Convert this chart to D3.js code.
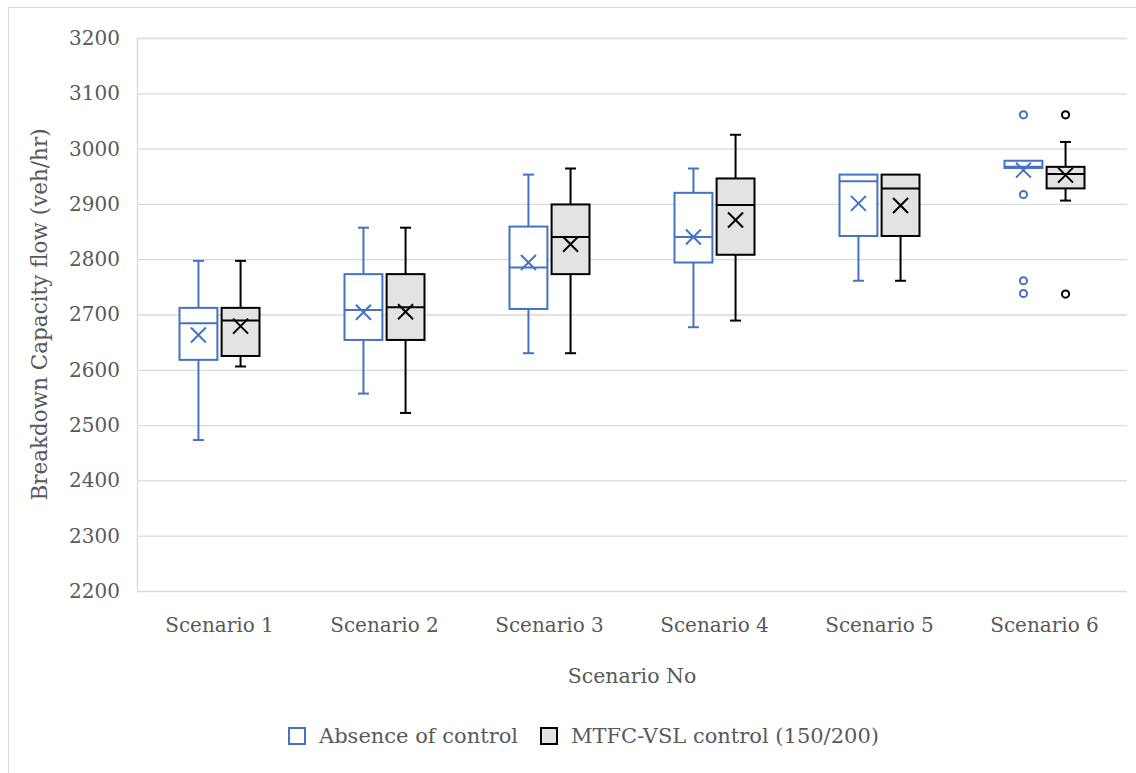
<html>
<head>
<script src="https://d3js.org/d3.v7.min.js"></script>
<style>
  body { margin: 0; background: #fff; }
  text { font-family: "DejaVu Serif", serif; fill: #595959; }
</style>
</head>
<body>
<script>
// categories and series
var scenarios = ["Scenario 1", "Scenario 2", "Scenario 3", "Scenario 4", "Scenario 5", "Scenario 6"];
var seriesNames = ["Absence of control", "MTFC-VSL control (150/200)"];
var yTicks = [2200, 2300, 2400, 2500, 2600, 2700, 2800, 2900, 3000, 3100, 3200];

// Absence of control
var noneLow    = [2473, 2557, 2630, 2677, 2761, 2965];
var noneQ1     = [2618, 2654, 2710, 2794, 2842, 2965];
var noneMedian = [2684, 2708, 2785, 2840, 2941, 2967];
var noneQ3     = [2712, 2773, 2859, 2920, 2953, 2978];
var noneHigh   = [2797, 2857, 2953, 2964, 2953, 2978];
var noneMean   = [2663, 2704, 2794, 2840, 2901, 2961];
var noneOut    = [[], [], [], [], [], [3061, 2917, 2761, 2738]];

// MTFC-VSL control
var vslLow    = [2606, 2522, 2630, 2689, 2761, 2906];
var vslQ1     = [2625, 2654, 2773, 2808, 2842, 2928];
var vslMedian = [2689, 2713, 2840, 2898, 2928, 2954];
var vslQ3     = [2712, 2773, 2899, 2946, 2953, 2967];
var vslHigh   = [2797, 2857, 2964, 3025, 2953, 3012];
var vslMean   = [2679, 2705, 2827, 2871, 2897, 2952];
var vslOut    = [[], [], [], [], [], [3061, 2737]];

var colors = ["#4472C4", "#000000"];
var fills = ["#ffffff", "#e3e3e3"];

var width = 1136, height = 773;
var margin = {top: 38, right: 9, bottom: 182, left: 137};

var svg = d3.select("body").append("svg")
    .attr("width", width)
    .attr("height", height);

// outer frame
svg.append("path")
    .attr("d", "M8.5," + (height + 5) + "V7.5H" + (width + 5))
    .attr("fill", "none")
    .attr("stroke", "#d9d9d9");

var x = d3.scaleBand()
    .domain(scenarios)
    .range([margin.left, width - margin.right]);

var x1 = d3.scaleBand()
    .domain(seriesNames)
    .range([-40, 40])
    .paddingInner(0.1);

var y = d3.scaleLinear()
    .domain([2200, 3200])
    .range([height - margin.bottom, margin.top]);

// gridlines + y labels
var yAxis = svg.append("g")
    .attr("transform", "translate(" + margin.left + ",0)")
    .call(d3.axisLeft(y).tickValues(yTicks).tickFormat(d3.format("d"))
        .tickSize(-(width - margin.left - margin.right)).tickPadding(17))
    .call(g => g.select(".domain").remove());
yAxis.selectAll(".tick line").attr("stroke", "#d9d9d9").attr("stroke-width", 1.3);
yAxis.selectAll(".tick text").attr("font-size", 20).attr("fill", "#595959");

// left axis line
svg.append("line")
    .attr("x1", margin.left + 0.5).attr("x2", margin.left + 0.5)
    .attr("y1", y(3200)).attr("y2", y(2200))
    .attr("stroke", "#d9d9d9").attr("stroke-width", 1.3);

// x labels
var xAxis = svg.append("g")
    .attr("transform", "translate(0," + y(2200) + ")")
    .call(d3.axisBottom(x).tickSize(0).tickPadding(27))
    .call(g => g.select(".domain").remove());
xAxis.selectAll(".tick text").attr("font-size", 20).attr("fill", "#595959");

svg.append("text")
    .attr("x", (margin.left + width - margin.right) / 2)
    .attr("y", 683)
    .attr("text-anchor", "middle")
    .attr("font-size", 20.5)
    .text("Scenario No");

svg.append("text")
    .attr("transform", "translate(47," + ((y(3200) + y(2200)) / 2) + ") rotate(-90)")
    .attr("text-anchor", "middle")
    .attr("font-size", 21.5)
    .text("Breakdown Capacity flow (veh/hr)");

var series = [
    {name: seriesNames[0], low: noneLow, q1: noneQ1, median: noneMedian, q3: noneQ3, high: noneHigh, mean: noneMean, out: noneOut},
    {name: seriesNames[1], low: vslLow, q1: vslQ1, median: vslMedian, q3: vslQ3, high: vslHigh, mean: vslMean, out: vslOut}
];

var bw = x1.bandwidth();
var cap = 5.5;
var xs = 7.5;

series.forEach(function(s, si) {
    var col = colors[si];
    var g = svg.append("g");
    scenarios.forEach(function(sc, i) {
        var cx = x(sc) + x.bandwidth() / 2 + x1(s.name) + bw / 2;
        var left = cx - bw / 2;
        // whiskers
        if (s.high[i] > s.q3[i]) {
            g.append("line").attr("x1", cx).attr("x2", cx).attr("y1", y(s.high[i])).attr("y2", y(s.q3[i]))
                .attr("stroke", col).attr("stroke-width", 2);
            g.append("line").attr("x1", cx - cap).attr("x2", cx + cap).attr("y1", y(s.high[i])).attr("y2", y(s.high[i]))
                .attr("stroke", col).attr("stroke-width", 2);
        }
        if (s.low[i] < s.q1[i]) {
            g.append("line").attr("x1", cx).attr("x2", cx).attr("y1", y(s.q1[i])).attr("y2", y(s.low[i]))
                .attr("stroke", col).attr("stroke-width", 2);
            g.append("line").attr("x1", cx - cap).attr("x2", cx + cap).attr("y1", y(s.low[i])).attr("y2", y(s.low[i]))
                .attr("stroke", col).attr("stroke-width", 2);
        }
        // box
        g.append("rect")
            .attr("x", left).attr("width", bw)
            .attr("y", y(s.q3[i])).attr("height", y(s.q1[i]) - y(s.q3[i]))
            .attr("fill", fills[si]).attr("stroke", col).attr("stroke-width", 2);
        g.append("line").attr("x1", left).attr("x2", left + bw).attr("y1", y(s.median[i])).attr("y2", y(s.median[i]))
            .attr("stroke", col).attr("stroke-width", 2);
        // mean marker
        var my = y(s.mean[i]);
        g.append("path")
            .attr("d", "M" + (cx - xs) + "," + (my - xs) + "L" + (cx + xs) + "," + (my + xs) +
                       "M" + (cx - xs) + "," + (my + xs) + "L" + (cx + xs) + "," + (my - xs))
            .attr("stroke", col).attr("stroke-width", 2).attr("fill", "none");
        // outliers
        s.out[i].forEach(function(v) {
            g.append("circle").attr("cx", cx).attr("cy", y(v)).attr("r", 3.6)
                .attr("fill", "#fff").attr("stroke", col).attr("stroke-width", 2);
        });
    });
});

// legend
var legend = svg.append("g").attr("transform", "translate(0,736)");
var lx = [289, 541];
seriesNames.forEach(function(n, i) {
    legend.append("rect")
        .attr("x", lx[i]).attr("y", -8).attr("width", 16).attr("height", 16)
        .attr("fill", fills[i]).attr("stroke", colors[i]).attr("stroke-width", 2);
    legend.append("text")
        .attr("x", lx[i] + 30).attr("y", 7)
        .attr("font-size", 21)
        .text(n);
});
</script>
</body>
</html>
